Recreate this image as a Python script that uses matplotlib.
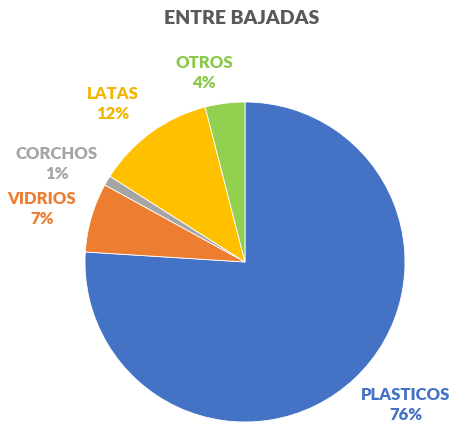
import matplotlib.pyplot as plt

categorias = ['PLASTICOS', 'VIDRIOS', 'CORCHOS', 'LATAS', 'OTROS']
porcentajes = [76, 7, 1, 12, 4]
colores = ['#4472C4', '#ED7D31', '#A5A5A5', '#FFC000', '#92D050']
colores_texto = ['#4472C4', '#ED7D31', '#A5A5A5', '#F2B600', '#8CC84B']

# posiciones de las etiquetas (pixeles, y hacia arriba)
pos_etiquetas = [(406, 29), (42, 225), (57, 270), (113, 330), (204, 361)]

plt.rcParams['font.family'] = ['Lato', 'DejaVu Sans']

fig = plt.figure(figsize=(4.53, 4.34), dpi=100)
ax = fig.add_axes([0, 0, 1, 1])

ax.pie(porcentajes, colors=colores, startangle=90, counterclock=False,
       center=(245, 172), radius=160, frame=True,
       wedgeprops=dict(edgecolor='white', linewidth=0.6))
ax.set_xlim(0, 453)
ax.set_ylim(0, 434)
ax.set_aspect('equal')
ax.axis('off')

for cat, val, col, (x, y) in zip(categorias, porcentajes, colores_texto, pos_etiquetas):
    ax.text(x, y, f'{cat}\n{val}%', color=col, fontsize=12, fontweight='heavy',
            ha='center', va='center', linespacing=1.25)

ax.text(242, 416, 'ENTRE BAJADAS', color='#595959', fontsize=14,
        fontweight='heavy', ha='center', va='center')

fig.savefig('out.png', dpi=100)
